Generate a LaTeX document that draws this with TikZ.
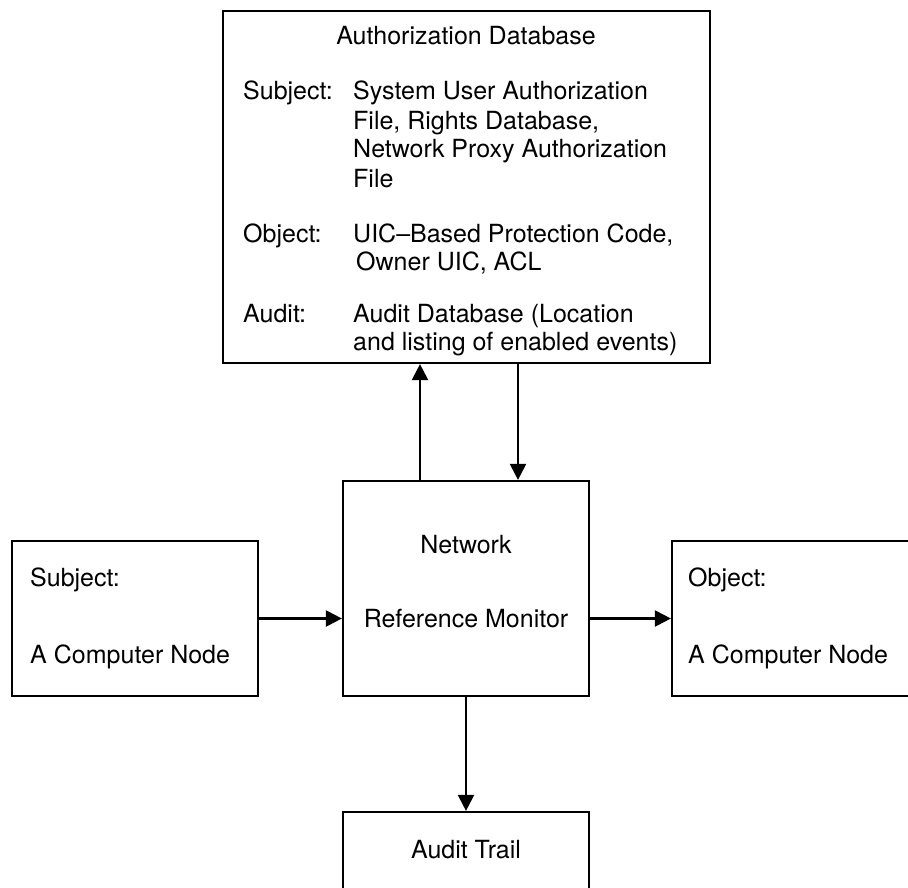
\documentclass[tikz,border=0pt]{standalone}
\usepackage{fontspec}
\setmainfont{TeX Gyre Heros}
\usetikzlibrary{arrows.meta}
\begin{document}
\begin{tikzpicture}[x=1pt,y=-1pt,
  box/.style={draw, line width=2.2pt, inner sep=0pt, rectangle},
  txt/.style={font=\fontsize{25}{29}\selectfont, inner sep=0pt, anchor=base west},
  ctxt/.style={font=\fontsize{25}{29}\selectfont, inner sep=0pt, anchor=base},
  arr/.style={line width=2.2pt, -{Triangle[length=16pt,width=16pt]}}]
\useasboundingbox (0,0) rectangle (908,888);
\clip (0,0) rectangle (908,888);
% boxes
\node[box, minimum width=487pt, minimum height=352pt] (auth) at (466.5,187) {};
\node[box, minimum width=246pt, minimum height=215pt] (net) at (466,588.5) {};
\node[box, minimum width=246pt, minimum height=155pt] (subj) at (135,618.5) {};
\node[box, minimum width=258pt, minimum height=155pt] (obj) at (801,618.5) {};
\node[box, minimum width=246pt, minimum height=96pt] (audit) at (466,860) {};
% top box text
\node[ctxt] (t0) at (466,45) {Authorization Database};
\node[txt] (s0) at (243,100) {Subject:};
\node[txt] (s1) at (353,100) {System User Authorization};
\node[txt] (s2) at (353,130) {File, Rights Database,};
\node[txt] (s3) at (353,158) {Network Proxy Authorization};
\node[txt] (s4) at (353,188) {File};
\node[txt] (o0) at (243,242) {Object:};
\node[txt] (o1) at (353,242) {UIC–Based Protection Code,};
\node[txt] (o2) at (356,270) {Owner UIC, ACL};
\node[txt] (a0) at (243,322) {Audit:};
\node[txt] (a1) at (353,322) {Audit Database (Location};
\node[txt] (a2) at (353,350) {and listing of enabled events)};
% network box text
\node[ctxt] (n1) at (466,553) {Network};
\node[ctxt] (n2) at (466,627) {Reference Monitor};
% subject / object text
\node[txt] (sj1) at (30,586) {Subject:};
\node[txt] (sj2) at (30,663) {A Computer Node};
\node[txt] (ob1) at (688,586) {Object:};
\node[txt] (ob2) at (688,663) {A Computer Node};
% audit trail
\node[ctxt] (at) at (466,858) {Audit Trail};
% connectors
\draw[arr] ([xshift=-46pt]net.north) -- ([xshift=-46pt]net.north |- auth.south);
\draw[arr] ([xshift=52pt]net.north |- auth.south) -- ([xshift=52pt]net.north);
\draw[arr] (subj.east) -- (subj.east -| net.west);
\draw[arr] (obj.west -| net.east) -- (obj.west);
\draw[arr] (net.south) -- (audit.north);
\end{tikzpicture}
\end{document}
